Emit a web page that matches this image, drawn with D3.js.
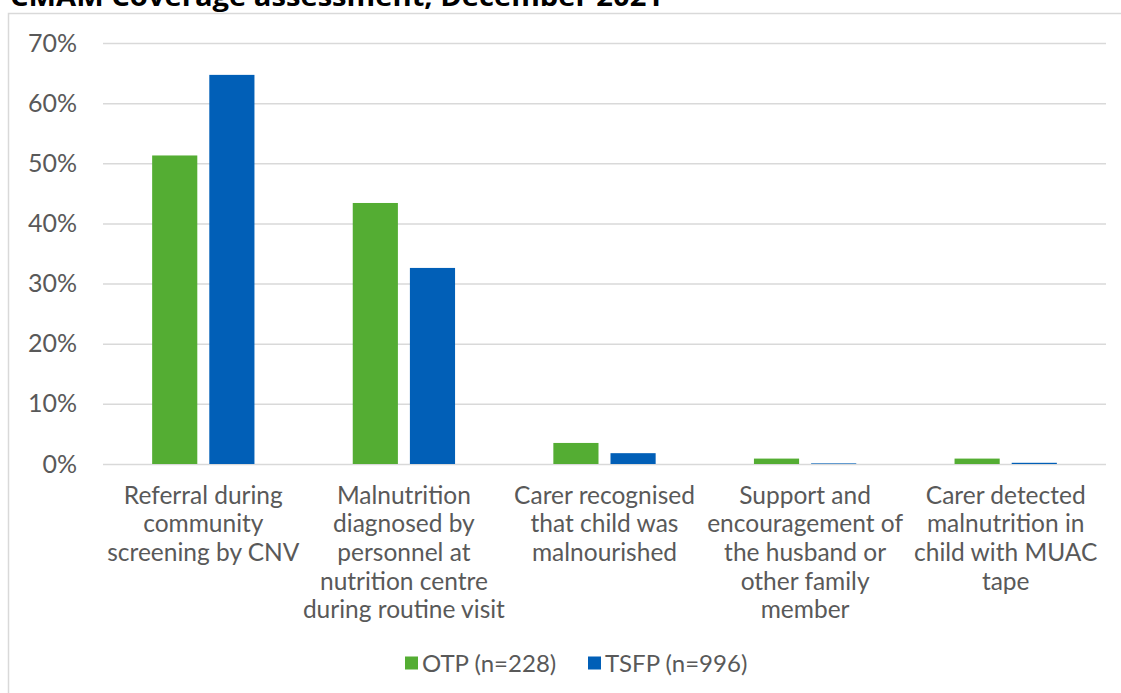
<!DOCTYPE html>
<html>
<head>
<meta charset="utf-8">
<script src="https://cdn.jsdelivr.net/npm/d3@7"></script>
<style>
  body { margin: 0; background: #fff; }
  svg { display: block; }
</style>
</head>
<body>
<div id="svg-chart"></div>
<script>
// chart data
var categories = [
    ["Referral during", "community", "screening by CNV"],
    ["Malnutrition", "diagnosed by", "personnel at", "nutrition centre", "during routine visit"],
    ["Carer recognised", "that child was", "malnourished"],
    ["Support and", "encouragement of", "the husband or", "other family", "member"],
    ["Carer detected", "malnutrition in", "child with MUAC", "tape"]
];
var seriesNames = ["OTP (n=228)", "TSFP (n=996)"];
var otpValues = [51.3, 43.4, 3.5, 0.9, 0.9];
var tsfpValues = [64.7, 32.6, 1.8, 0.1, 0.2];
var yTicks = [0, 10, 20, 30, 40, 50, 60, 70];
var titleText = "CMAM Coverage assessment, December 2021";

var colors = ["#54ad33", "#015fb7"];
var textColor = "#595959";
var fontFamily = "Lato, 'Open Sans', sans-serif";

var svgWidth = 1121, svgHeight = 693;
var plot = { left: 103, right: 1106, top: 43, bottom: 464 };

var svg = d3.select("#svg-chart")
    .append("svg")
    .attr("width", svgWidth)
    .attr("height", svgHeight);

// chart border (runs past the right and bottom edges)
svg.append("rect")
    .attr("x", 8.5)
    .attr("y", 13.5)
    .attr("width", svgWidth + 20)
    .attr("height", svgHeight + 20)
    .attr("fill", "#fff")
    .attr("stroke", "#d9d9d9")
    .attr("stroke-width", 1.5);

// title, cut off at the top like the source
svg.append("text")
    .attr("x", 10)
    .attr("y", 6)
    .attr("font-family", "'Open Sans', sans-serif")
    .attr("font-weight", "bold")
    .attr("font-size", 27)
    .attr("textLength", 653)
    .attr("lengthAdjust", "spacingAndGlyphs")
    .attr("fill", "#000")
    .text(titleText);

var yScale = d3.scaleLinear()
    .domain([0, 70])
    .range([plot.bottom, plot.top]);

var x0 = d3.scaleBand()
    .domain(d3.range(categories.length))
    .range([plot.left, plot.right])
    .paddingInner(0.49)
    .paddingOuter(0.245);

var x1 = d3.scaleBand()
    .domain([0, 1])
    .range([0, x0.bandwidth()])
    .paddingInner(0.21);

// gridlines + y labels
var yAxis = d3.axisLeft(yScale)
    .tickValues(yTicks)
    .tickSize(-(plot.right - plot.left))
    .tickPadding(26)
    .tickFormat(function(d) { return d + "%"; });

var yG = svg.append("g")
    .attr("transform", `translate(${plot.left}, 0)`)
    .call(yAxis);
yG.select(".domain").remove();
yG.selectAll(".tick line")
    .attr("stroke", "#d9d9d9")
    .attr("stroke-width", 1.5);
yG.selectAll(".tick text")
    .attr("fill", textColor)
    .attr("font-family", fontFamily)
    .attr("font-size", 25);

// bars
var rows = categories.map(function(c, i) {
    return [otpValues[i], tsfpValues[i]];
});

var groups = svg.selectAll("g.cat")
    .data(rows)
    .enter()
    .append("g")
    .attr("class", "cat")
    .attr("transform", function(d, i) { return `translate(${x0(i)}, 0)`; });

groups.selectAll("rect")
    .data(function(d) { return d; })
    .enter()
    .append("rect")
    .attr("x", function(d, j) { return x1(j); })
    .attr("y", function(d) { return yScale(d); })
    .attr("width", x1.bandwidth())
    .attr("height", function(d) { return plot.bottom - yScale(d); })
    .attr("fill", function(d, j) { return colors[j]; });

// category labels
var xAxis = d3.axisBottom(x0).tickSize(0).tickFormat("");
var xG = svg.append("g")
    .attr("transform", `translate(0, ${plot.bottom})`)
    .call(xAxis);
xG.select(".domain").remove();

xG.selectAll(".tick")
    .append("text")
    .attr("fill", textColor)
    .attr("font-family", fontFamily)
    .attr("font-size", 24.5)
    .attr("text-anchor", "middle")
    .each(function(i) {
        var t = d3.select(this);
        categories[i].forEach(function(line, k) {
            t.append("tspan")
                .attr("x", 0)
                .attr("y", 39.5 + k * 28.7)
                .text(line);
        });
    });

// legend
var legend = svg.append("g").attr("transform", "translate(0, 663)");
var legendX = [405, 588];
seriesNames.forEach(function(name, i) {
    legend.append("rect")
        .attr("x", legendX[i])
        .attr("y", -6.5)
        .attr("width", 13)
        .attr("height", 13)
        .attr("fill", colors[i]);
    legend.append("text")
        .attr("x", legendX[i] + 17)
        .attr("y", 8.5)
        .attr("fill", textColor)
        .attr("font-family", fontFamily)
        .attr("font-size", 24)
        .text(name);
});
</script>
</body>
</html>
